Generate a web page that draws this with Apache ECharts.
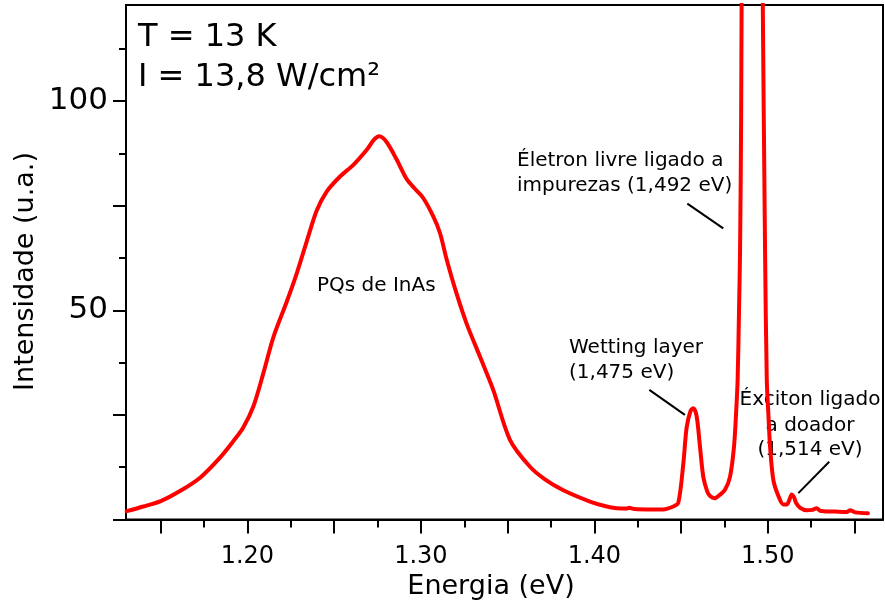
<!DOCTYPE html>
<html>
<head>
<meta charset="utf-8">
<script src="https://cdn.jsdelivr.net/npm/echarts@6/dist/echarts.min.js"></script>
<style>
  html, body { margin: 0; padding: 0; background: #fff; }
  #chart { width: 885px; height: 608px; }
</style>
</head>
<body>
<div id="chart"></div>
<script>
// Photoluminescence spectrum, T = 13 K
const energy = [
  1.1304, 1.1400, 1.1500, 1.1611, 1.1727, 1.1842, 1.1920, 1.1976, 1.2034, 1.2092,
  1.2149, 1.2226, 1.2284, 1.2342, 1.2399, 1.2457, 1.2534, 1.2611, 1.2688, 1.2730,
  1.2760, 1.2803, 1.2861, 1.2918, 1.2960, 1.3014, 1.3072, 1.3110, 1.3149, 1.3205,
  1.3263, 1.3341, 1.3417, 1.3514, 1.3629, 1.3715, 1.3821, 1.3975, 1.4071, 1.4129,
  1.4186, 1.4200, 1.4230, 1.4340, 1.4397, 1.4455, 1.4484, 1.4513, 1.4532, 1.4555,
  1.4571, 1.4590, 1.4609, 1.4628, 1.4650, 1.4667, 1.4695, 1.4724, 1.4753, 1.4782,
  1.4805, 1.4817, 1.4826, 1.4834, 1.4840, 1.4846, 1.4849, 1.4868, 1.4897, 1.4909,
  1.4926, 1.4955, 1.4971, 1.4984, 1.4994, 1.5003, 1.5013, 1.5032, 1.5061, 1.5089,
  1.5110, 1.5125, 1.5138, 1.5150, 1.5165, 1.5186, 1.5224, 1.5255, 1.5282, 1.5301,
  1.5320, 1.5387, 1.5455, 1.5474, 1.5503, 1.5577
];
const intensity = [
  2.0, 3.1, 4.4, 6.8, 10.0, 14.8, 18.8, 22.0, 27.0, 35.0,
  43.5, 52.0, 58.8, 66.5, 73.8, 78.4, 82.0, 84.8, 88.4, 90.8,
  91.6, 90.2, 86.0, 81.4, 79.3, 76.8, 72.4, 68.5, 62.1, 54.1,
  46.9, 38.9, 31.0, 19.0, 12.6, 9.6, 7.0, 4.3, 3.1, 2.7,
  2.6, 2.8, 2.5, 2.4, 2.4, 3.1, 4.0, 13.4, 22.0, 26.0,
  26.6, 24.6, 17.4, 10.2, 6.8, 5.6, 5.1, 5.9, 7.1, 10.2,
  17.4, 25.4, 33.4, 50.0, 64.5, 95.0, 123.0, 250.0, 390.0, 410.0,
  370.0, 200.0, 123.0, 64.5, 33.4, 25.4, 17.4, 9.4, 5.6, 3.6,
  3.6, 4.8, 6.0, 5.4, 3.8, 2.8, 2.2, 2.3, 2.7, 2.1,
  2.0, 1.9, 1.8, 2.2, 1.7, 1.5
];

// Axis ticks and labels
const xMajorTicks = [1.15, 1.20, 1.25, 1.30, 1.35, 1.40, 1.45, 1.50, 1.55];
const xMinorTicks = [1.175, 1.225, 1.275, 1.325, 1.375, 1.425, 1.475, 1.525];
const xTickLabels = [1.20, 1.30, 1.40, 1.50];
const yMajorTicks = [0, 25, 50, 75, 100];
const yMinorTicks = [12.5, 37.5, 62.5, 87.5, 112.5];
const yTickLabels = [50, 100];

// Texts
const conditions = ['T = 13 K', 'I = 13,8 W/cm²'];
const qdLabel = 'PQs de InAs';
const freeElectronLabel = ['Életron livre ligado a', 'impurezas (1,492 eV)'];
const wettingLabel = ['Wetting layer', '(1,475 eV)'];
const excitonLabel = ['Éxciton ligado', 'a doador', '(1,514 eV)'];

const X_MIN = 1.13, X_MAX = 1.5664, Y_MIN = 0, Y_MAX = 123;
const FONT = 'DejaVu Sans';
const BLACK = '#000';

const chart = echarts.init(document.getElementById('chart'), null, { renderer: 'canvas' });

const tickStyle = { color: BLACK, width: 2 };
const textItem = (text, x, y, size, align, extra) => Object.assign({
  type: 'text', x: x, y: y, silent: true,
  style: { text: text, fontFamily: FONT, fontSize: size, fill: BLACK, align: align || 'left', verticalAlign: 'middle' }
}, extra || {});

const option = {
  animation: false,
  backgroundColor: '#fff',
  grid: {
    left: 126, right: 2, top: 5, bottom: 88.5,
    show: true, borderColor: BLACK, borderWidth: 2,
    containLabel: false, outerBoundsMode: 'none'
  },
  xAxis: [
    {
      type: 'value', min: X_MIN, max: X_MAX, position: 'bottom',
      axisLine: { show: true, onZero: false, lineStyle: { color: BLACK, width: 2 } },
      axisTick: { show: true, inside: false, length: 14, lineStyle: tickStyle, customValues: xMajorTicks },
      axisLabel: {
        show: true, customValues: xTickLabels, margin: 25,
        formatter: v => Number(v).toFixed(2),
        fontFamily: FONT, fontSize: 24, color: BLACK
      },
      splitLine: { show: false }
    },
    {
      type: 'value', min: X_MIN, max: X_MAX, position: 'bottom', offset: 0,
      axisLine: { show: false },
      axisTick: { show: true, inside: false, length: 8, lineStyle: tickStyle, customValues: xMinorTicks },
      axisLabel: { show: false },
      splitLine: { show: false }
    }
  ],
  yAxis: [
    {
      type: 'value', min: Y_MIN, max: Y_MAX, position: 'left',
      axisLine: { show: true, onZero: false, lineStyle: { color: BLACK, width: 2 } },
      axisTick: { show: true, inside: false, length: 13, lineStyle: tickStyle, customValues: yMajorTicks },
      axisLabel: {
        show: true, customValues: yTickLabels, margin: 18,
        formatter: v => String(v),
        fontFamily: FONT, fontSize: 31, color: BLACK
      },
      splitLine: { show: false }
    },
    {
      type: 'value', min: Y_MIN, max: Y_MAX, position: 'left', offset: 0,
      axisLine: { show: false },
      axisTick: { show: true, inside: false, length: 7, lineStyle: tickStyle, customValues: yMinorTicks },
      axisLabel: { show: false },
      splitLine: { show: false }
    }
  ],
  series: [
    {
      type: 'line',
      xAxisIndex: 0, yAxisIndex: 0,
      data: energy.map((e, i) => [e, intensity[i]]),
      showSymbol: false,
      smooth: 0.3,
      clip: true,
      lineStyle: { color: '#ff0000', width: 4, join: 'round', cap: 'round' },
      markLine: {
        silent: true,
        symbol: ['none', 'none'],
        label: { show: false },
        lineStyle: { color: BLACK, width: 2, type: 'solid' },
        data: [
          [{ coord: [1.4536, 75.5] }, { coord: [1.4743, 69.6] }],
          [{ coord: [1.4317, 31.0] }, { coord: [1.4522, 25.0] }],
          [{ coord: [1.5354, 13.8] }, { coord: [1.5176, 6.3] }]
        ]
      }
    }
  ],
  graphic: [
    textItem(conditions[0], 138, 38, 32),
    textItem(conditions[1], 138, 78, 32),
    textItem('Energia (eV)', 491, 587, 27, 'center'),
    textItem('Intensidade (u.a.)', 26, 271.5, 27, 'center', { rotation: Math.PI / 2 }),
    textItem(qdLabel, 317, 286, 20),
    textItem(freeElectronLabel[0], 517, 161, 20),
    textItem(freeElectronLabel[1], 517, 186, 20),
    textItem(wettingLabel[0], 569, 348, 20),
    textItem(wettingLabel[1], 569, 373, 20),
    textItem(excitonLabel[0], 810, 400, 20, 'center'),
    textItem(excitonLabel[1], 810, 426, 20, 'center'),
    textItem(excitonLabel[2], 810, 450, 20, 'center')
  ]
};

chart.setOption(option);
</script>
</body>
</html>
